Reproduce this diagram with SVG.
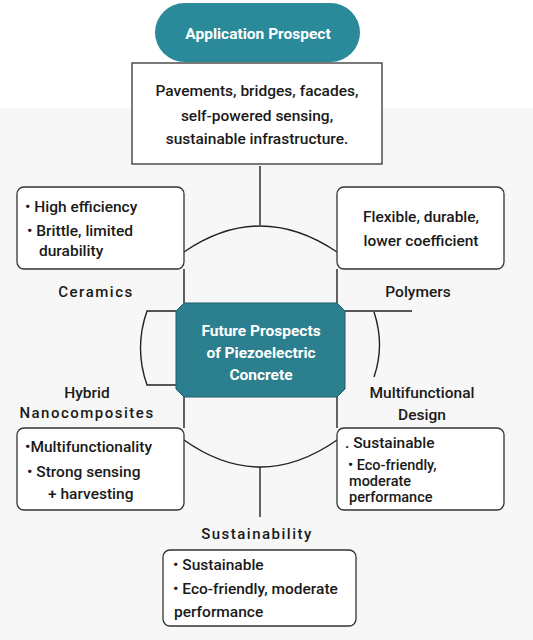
<svg xmlns="http://www.w3.org/2000/svg" width="533" height="640" viewBox="0 0 533 640">
<style>
.t{font-family:Roboto,"Noto Sans","Liberation Sans",sans-serif;font-weight:500;fill:#1a1a1a;font-size:15.5px}
.c{text-anchor:middle}
.w{fill:#fff;font-weight:700}
.lab{font-size:15px;letter-spacing:1.5px}
.sm{font-size:14.5px}
.box{fill:#fff;stroke:#333;stroke-width:1.3}
.ln{fill:none;stroke:#222;stroke-width:1.4}
</style>
<rect x="0" y="0" width="533" height="640" fill="#fff"/>
<rect x="0" y="108" width="533" height="532" fill="#f7f7f7"/>
<g id="connectors">
<path class="ln" d="M260 166 V225"/>
<path class="ln" d="M184 252 Q260 200 337 252"/>
<path class="ln" d="M184 269 V303"/>
<path class="ln" d="M337 269 V303"/>
<path class="ln" d="M176 311 H147 Q134 348 147 385 H176"/>
<path class="ln" d="M345 311 H412"/>
<path class="ln" d="M374 312 Q385 345 374 377"/>
<path class="ln" d="M184 397 V428"/>
<path class="ln" d="M337 397 V428"/>
<path class="ln" d="M184 440 Q260 494 337 440"/>
<path class="ln" d="M260 467 V517"/>
</g>
<g id="application-prospect">
<rect x="155" y="3" width="205" height="59" rx="29.5" fill="#2a8a9a"/>
<text class="t c w" x="258" y="39" font-size="16">Application Prospect</text>
</g>
<g id="applications">
<rect class="box" x="132" y="63" width="250" height="101"/>
<text class="t c" x="257" y="96">Pavements, bridges, facades,</text>
<text class="t c" x="257" y="121">self-powered sensing,</text>
<text class="t c" x="257" y="144">sustainable infrastructure.</text>
</g>
<g id="ceramics-box">
<rect class="box" x="17" y="187" width="167" height="82" rx="7"/>
<text class="t" x="25" y="212">• High efficiency</text>
<text class="t" x="27" y="236">•  Brittle, limited</text>
<text class="t" x="39" y="256">durability</text>
</g>
<g id="polymers-box">
<rect class="box" x="337" y="187" width="167" height="82" rx="7"/>
<text class="t c" x="421" y="222">Flexible, durable,</text>
<text class="t c" x="421" y="246">lower coefficient</text>
</g>
<g id="ceramics-label"><text class="t c lab" x="96" y="297">Ceramics</text></g>
<g id="polymers-label"><text class="t c" x="418" y="297">Polymers</text></g>
<g id="center">
<path d="M184 303 H337 L345 311 V389 L337 397 H184 L176 389 V311 Z" fill="#2b7f8e" stroke="#1d5f6b" stroke-width="1"/>
<text class="t c w" x="261" y="336" font-size="15.5">Future Prospects</text>
<text class="t c w" x="261" y="358" font-size="15.5">of Piezoelectric</text>
<text class="t c w" x="261" y="380" font-size="15.5">Concrete</text>
</g>
<g id="hybrid-label">
<text class="t c" x="87" y="398">Hybrid</text>
<text class="t c lab" x="87" y="418">Nanocomposites</text>
</g>
<g id="multi-label">
<text class="t c" x="422" y="398">Multifunctional</text>
<text class="t c" x="422" y="420">Design</text>
</g>
<g id="hybrid-box">
<rect class="box" x="17" y="428" width="167" height="82" rx="7"/>
<text class="t" x="25" y="452">•Multifunctionality</text>
<text class="t" x="27" y="477">•  Strong sensing</text>
<text class="t" x="48" y="499">+ harvesting</text>
</g>
<g id="multi-box">
<rect class="box" x="337" y="428" width="167" height="82" rx="7"/>
<text class="t" x="345" y="448">. Sustainable</text>
<text class="t sm" x="348" y="470">• Eco-friendly,</text>
<text class="t sm" x="349" y="486">moderate</text>
<text class="t sm" x="349" y="502">performance</text>
</g>
<g id="sustainability-label"><text class="t c lab" x="257" y="539">Sustainability</text></g>
<g id="sustainability-box">
<rect class="box" x="163" y="550" width="193" height="76" rx="7"/>
<text class="t" x="173" y="570">• Sustainable</text>
<text class="t" x="173" y="594">• Eco-friendly, moderate</text>
<text class="t" x="174" y="617">performance</text>
</g>
</svg>
